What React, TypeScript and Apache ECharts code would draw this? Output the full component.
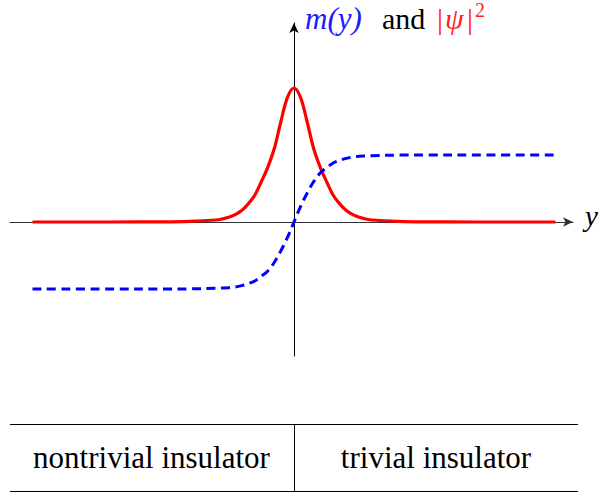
import React, { useEffect, useRef } from 'react';
import * as echarts from 'echarts';

// position y (horizontal coordinate)
const positions = [-10, -7, -5, -4, -3, -2.75, -2.5, -2.25, -2, -1.75, -1.5, -1.25, -1, -0.75, -0.5, -0.25, 0, 0.25, 0.5, 0.75, 1, 1.25, 1.5, 1.75, 2, 2.25, 2.5, 2.75, 3, 4, 5, 7, 10];
// |psi|^2 (red, solid)
const density = [0, 0, 0.003, 0.01, 0.03, 0.045, 0.07, 0.11, 0.17, 0.27, 0.4, 0.6, 0.82, 1.1, 1.5, 1.86, 2.0, 1.86, 1.5, 1.1, 0.82, 0.6, 0.4, 0.27, 0.17, 0.11, 0.07, 0.045, 0.03, 0.01, 0.003, 0, 0];
// m(y) (blue, dashed)
const mass = [-1, -1, -1, -0.998, -0.99, -0.985, -0.98, -0.97, -0.95, -0.92, -0.88, -0.81, -0.73, -0.6, -0.43, -0.23, 0, 0.23, 0.43, 0.6, 0.73, 0.81, 0.88, 0.92, 0.95, 0.97, 0.98, 0.985, 0.99, 0.998, 1, 1, 1];
const phaseLabels = ['nontrivial insulator', 'trivial insulator'];
const axisName = 'y';

const SERIF = '"Liberation Serif", "Times New Roman", serif';

export default function App() {
  const ref = useRef<HTMLDivElement>(null);
  useEffect(() => {
    const chart = echarts.init(ref.current as HTMLDivElement, null, { renderer: 'svg' });
    const redData = positions.map((x, i) => [x, density[i]]);
    const blueData = positions.map((x, i) => [x, mass[i]]);
    chart.setOption({
      animation: false,
      backgroundColor: '#ffffff',
      grid: { left: 10, right: 26, top: 23, bottom: 139, containLabel: false },
      xAxis: {
        type: 'value',
        min: -10.86,
        max: 10.67,
        axisLine: {
          show: true,
          onZero: true,
          symbol: ['none', 'arrow'],
          symbolSize: [7, 10],
          lineStyle: { color: '#333333', width: 1.2 },
        },
        axisTick: { show: false },
        axisLabel: { show: false },
        splitLine: { show: false },
      },
      yAxis: {
        type: 'value',
        min: -2,
        max: 2.97,
        axisLine: {
          show: true,
          onZero: true,
          symbol: ['none', 'arrow'],
          symbolSize: [7, 10],
          lineStyle: { color: '#000000', width: 1 },
        },
        axisTick: { show: false },
        axisLabel: { show: false },
        splitLine: { show: false },
      },
      series: [
        {
          type: 'line',
          data: redData,
          showSymbol: false,
          smooth: 0.35,
          lineStyle: { color: '#ff0000', width: 3.2 },
          z: 3,
        },
        {
          type: 'line',
          data: blueData,
          showSymbol: false,
          smooth: 0.35,
          lineStyle: { color: '#0000ff', width: 3, type: [9, 5.5] },
          z: 4,
        },
      ],
      graphic: [
        { type: 'text', x: 305, y: 18, style: { text: 'm(y)', fill: '#1a1aff', fontSize: 31, fontStyle: 'italic', fontFamily: SERIF, textAlign: 'left', textVerticalAlign: 'middle' } },
        { type: 'text', x: 382, y: 18, style: { text: 'and', fill: '#000000', fontSize: 30, fontFamily: SERIF, textAlign: 'left', textVerticalAlign: 'middle' } },
        { type: 'text', x: 437, y: 18, style: { text: '|', fill: '#ff2020', fontSize: 30, fontFamily: SERIF, textAlign: 'left', textVerticalAlign: 'middle' } },
        { type: 'text', x: 445, y: 18, style: { text: 'ψ', fill: '#ff2020', fontSize: 30, fontStyle: 'italic', fontFamily: SERIF, textAlign: 'left', textVerticalAlign: 'middle' } },
        { type: 'text', x: 467, y: 18, style: { text: '|', fill: '#ff2020', fontSize: 30, fontFamily: SERIF, textAlign: 'left', textVerticalAlign: 'middle' } },
        { type: 'text', x: 475, y: 10, style: { text: '2', fill: '#ff2020', fontSize: 20, fontFamily: SERIF, textAlign: 'left', textVerticalAlign: 'middle' } },
        { type: 'text', x: 585, y: 216, style: { text: axisName, fill: '#000000', fontSize: 29, fontStyle: 'italic', fontFamily: SERIF, textAlign: 'left', textVerticalAlign: 'middle' } },
        { type: 'line', shape: { x1: 10, y1: 424.5, x2: 578, y2: 424.5 }, style: { stroke: '#000000', lineWidth: 1 } },
        { type: 'line', shape: { x1: 10, y1: 491.5, x2: 578, y2: 491.5 }, style: { stroke: '#000000', lineWidth: 1 } },
        { type: 'line', shape: { x1: 294.5, y1: 424.5, x2: 294.5, y2: 491.5 }, style: { stroke: '#000000', lineWidth: 1 } },
        { type: 'text', x: 151.5, y: 457, style: { text: phaseLabels[0], fill: '#000000', fontSize: 31, fontFamily: SERIF, textAlign: 'center', textVerticalAlign: 'middle' } },
        { type: 'text', x: 436, y: 457, style: { text: phaseLabels[1], fill: '#000000', fontSize: 31, fontFamily: SERIF, textAlign: 'center', textVerticalAlign: 'middle' } },
      ],
    });
    return () => chart.dispose();
  }, []);
  return (
    <div
      ref={ref}
      style={{ position: 'fixed', left: 0, top: 0, width: 599, height: 495, background: '#ffffff' }}
    />
  );
}
